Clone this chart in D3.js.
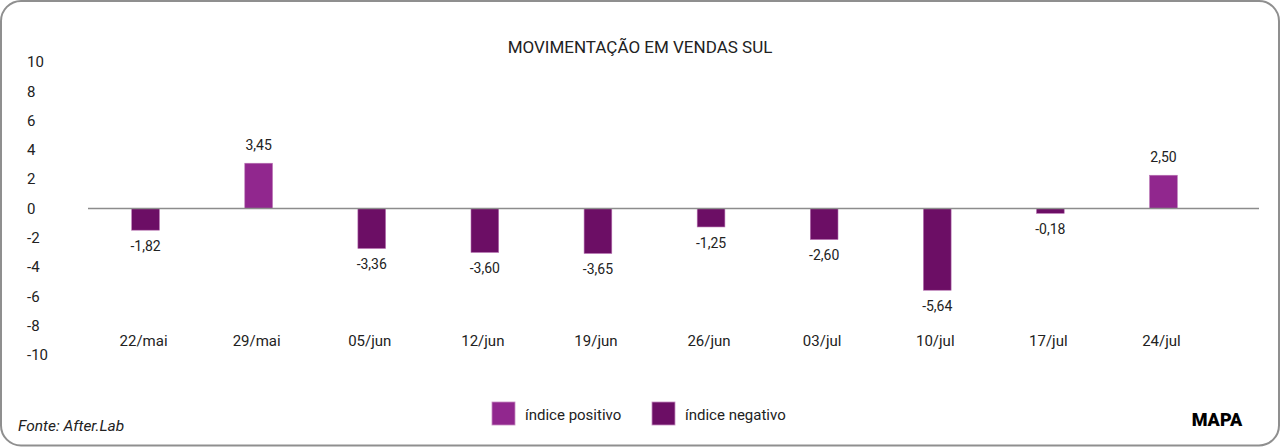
<!DOCTYPE html>
<meta charset="utf-8">
<style>
  body { margin: 0; background: #fff; }
  text { font-family: Roboto, "Noto Sans", sans-serif; fill: #222; }
</style>
<script src="https://d3js.org/d3.v7.min.js"></script>
<div id="my_dataviz"></div>
<script>

// data
var weeks = ["22/mai","29/mai","05/jun","12/jun","19/jun","26/jun","03/jul","10/jul","17/jul","24/jul"]
// bar heights as drawn
var values = [-1.48, 3.09, -2.73, -3.00, -3.07, -1.26, -2.12, -5.58, -0.33, 2.27]
// values printed above/below the bars
var valueLabels = ["-1,82","3,45","-3,36","-3,60","-3,65","-1,25","-2,60","-5,64","-0,18","2,50"]
var yTicks = [10, 8, 6, 4, 2, 0, -2, -4, -6, -8, -10]
var legendItems = ["índice positivo", "índice negativo"]

var W = 1280, H = 447
var colPos = "#91278e", colNeg = "#6c0e65"

var svg = d3.select("#my_dataviz")
  .append("svg")
    .attr("width", W)
    .attr("height", H)

// rounded frame
svg.append("rect")
  .attr("x", 1).attr("y", 1)
  .attr("width", W - 2).attr("height", H - 2.5)
  .attr("rx", 20)
  .style("fill", "white")
  .style("stroke", "#8f8f8f")
  .style("stroke-width", 2)

svg.append("text")
  .attr("x", 640)
  .attr("y", 53)
  .attr("text-anchor", "middle")
  .style("font-size", "17px")
  .text("MOVIMENTAÇÃO EM VENDAS SUL")

var x = d3.scaleBand()
  .domain(weeks)
  .range([89, 1220])
  .paddingInner(0.755)
  .paddingOuter(0.3775)

var y = d3.scaleLinear()
  .domain([-10, 10])
  .range([355, 62])

// y tick labels (left aligned, no axis line)
svg.append("g")
  .selectAll("text")
  .data(yTicks)
  .enter()
  .append("text")
    .attr("x", 27)
    .attr("y", function(d){ return y(d) })
    .attr("dy", "0.35em")
    .style("font-size", "15px")
    .text(function(d){ return d })

// bars
svg.append("g")
  .selectAll("rect")
  .data(values)
  .enter()
  .append("rect")
    .attr("x", function(d, i){ return x(weeks[i]) })
    .attr("y", function(d){ return d >= 0 ? y(d) : y(0) })
    .attr("width", x.bandwidth())
    .attr("height", function(d){ return Math.abs(y(d) - y(0)) })
    .style("fill", function(d){ return d >= 0 ? colPos : colNeg })
    .style("stroke", "#b873b3")
    .style("stroke-width", 0.6)

// zero line
svg.append("line")
  .attr("x1", 88).attr("x2", 1259)
  .attr("y1", y(0)).attr("y2", y(0))
  .style("stroke", "#8c8c8c")
  .style("stroke-width", 1.6)

// value labels
svg.append("g")
  .selectAll("text")
  .data(values)
  .enter()
  .append("text")
    .attr("x", function(d, i){ return x(weeks[i]) + x.bandwidth() / 2 })
    .attr("y", function(d){ return d >= 0 ? y(d) - 18 : y(d) + 16 })
    .attr("dy", "0.35em")
    .attr("text-anchor", "middle")
    .style("font-size", "14px")
    .text(function(d, i){ return valueLabels[i] })

// category labels
svg.append("g")
  .selectAll("text")
  .data(weeks)
  .enter()
  .append("text")
    .attr("x", function(d){ return x(d) + x.bandwidth() / 2 - 2 })
    .attr("y", 341)
    .attr("dy", "0.35em")
    .attr("text-anchor", "middle")
    .style("font-size", "15px")
    .text(function(d){ return d })

// legend
var legend = svg.append("g")
var legX = [492, 652]
legend.selectAll("rect")
  .data(legendItems)
  .enter()
  .append("rect")
    .attr("x", function(d, i){ return legX[i] })
    .attr("y", 402)
    .attr("width", 23)
    .attr("height", 23)
    .style("fill", function(d, i){ return i == 0 ? colPos : colNeg })
    .style("stroke", "#c58cc1")
    .style("stroke-width", 0.8)
legend.selectAll("text")
  .data(legendItems)
  .enter()
  .append("text")
    .attr("x", function(d, i){ return legX[i] + 33 })
    .attr("y", 415)
    .attr("dy", "0.35em")
    .style("font-size", "15px")
    .text(function(d){ return d })

// footer
svg.append("text")
  .attr("x", 18)
  .attr("y", 426)
  .attr("dy", "0.35em")
  .style("font-size", "15.5px")
  .style("font-style", "italic")
  .text("Fonte: After.Lab")

svg.append("text")
  .attr("x", 1217)
  .attr("y", 420)
  .attr("dy", "0.35em")
  .attr("text-anchor", "middle")
  .style("font-size", "18px")
  .style("font-weight", "900")
  .style("fill", "#000")
  .text("MAPA")

</script>
